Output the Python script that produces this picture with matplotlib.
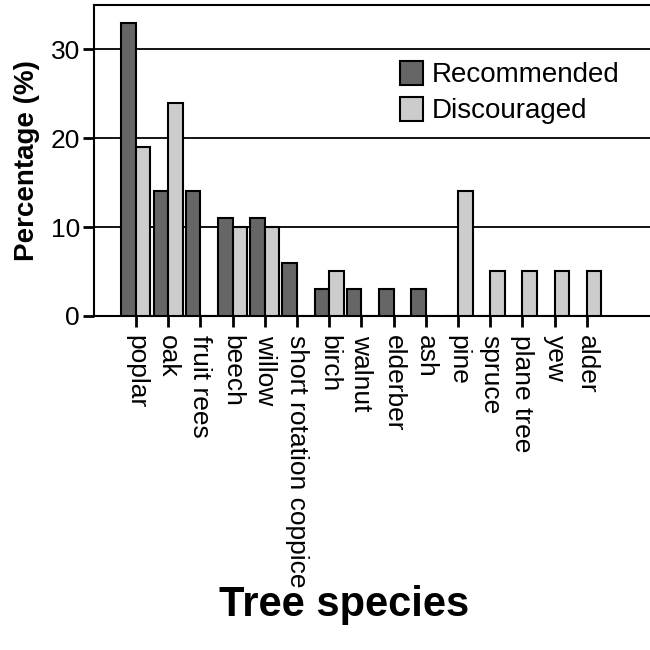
import matplotlib.pyplot as plt
import numpy as np

# datos
species = ["poplar", "oak", "fruit rees", "beech", "willow", "short rotation coppice",
           "birch", "walnut", "elderber", "ash", "pine", "spruce", "plane tree", "yew", "alder"]
recommended = [33, 14, 14, 11, 11, 6, 3, 3, 3, 3, 0, 0, 0, 0, 0]
discouraged = [19, 24, 0, 10, 10, 0, 5, 0, 0, 0, 14, 5, 5, 5, 5]

plt.rcParams['font.family'] = ['Liberation Sans', 'DejaVu Sans']

fig = plt.figure(figsize=(6.5, 6.5), dpi=100)
ax = fig.add_axes([0.1446, 0.514, 0.8554, 0.4785])

x = np.arange(len(species))
w = 0.45
ax.bar(x - w / 2, recommended, w, color="#666666", edgecolor="black", linewidth=1.5,
       label="Recommended", zorder=3)
ax.bar(x + w / 2, discouraged, w, color="#cccccc", edgecolor="black", linewidth=1.5,
       label="Discouraged", zorder=3)

for yv in [10, 20, 30]:
    ax.axhline(yv, color="black", linewidth=1.3, zorder=1)

ax.set_xlim(-1.3, 15.96)
ax.set_ylim(0, 35)
ax.set_yticks([0, 10, 20, 30])
ax.set_xticks(x)
ax.set_xticklabels(species, rotation=270, va="top", ha="center")
ax.tick_params(axis="both", direction="out", length=8, width=2, labelsize=19)
ax.tick_params(axis="y", pad=2)
ax.tick_params(axis="x", pad=6)

for s in ["left", "bottom", "top"]:
    ax.spines[s].set_linewidth(1.5)
ax.spines["right"].set_visible(False)

ax.set_ylabel("Percentage (%)", fontsize=20, fontweight="bold", labelpad=8)
fig.text(0.53, 0.069, "Tree species", fontsize=30, fontweight="bold", ha="center", va="center")

ax.legend(loc="upper left", bbox_to_anchor=(0.55, 0.82), frameon=False, fontsize=20,
          handlelength=0.85, handleheight=0.95, handletextpad=0.3, labelspacing=0.3,
          borderaxespad=0, borderpad=0)

fig.savefig("out.png", dpi=100)
